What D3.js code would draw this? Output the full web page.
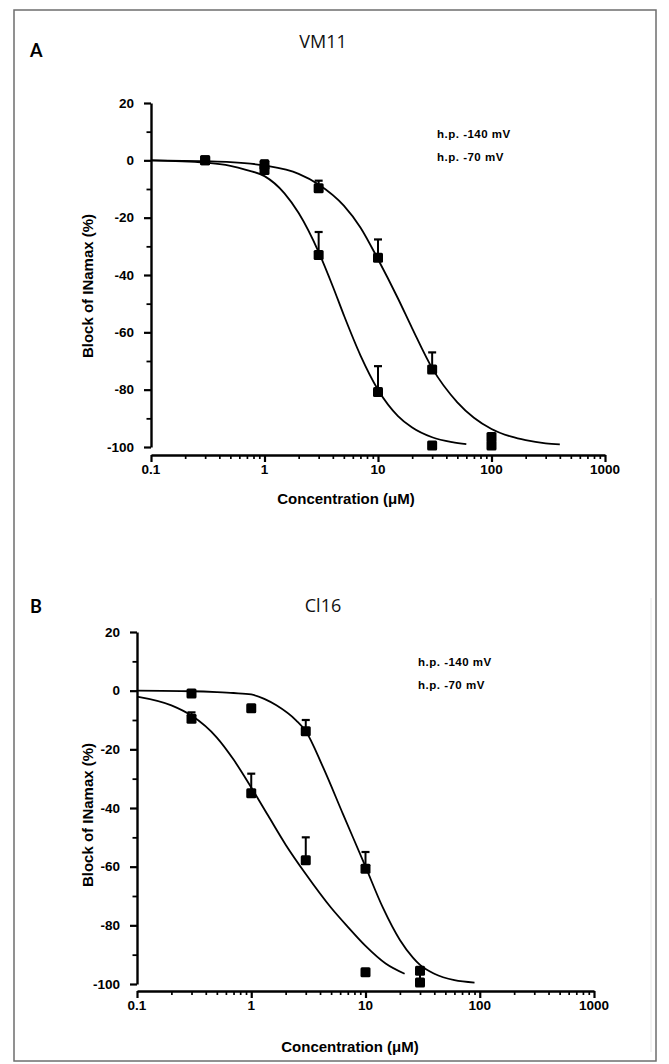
<!DOCTYPE html>
<html>
<head>
<meta charset="utf-8">
<script src="https://cdn.jsdelivr.net/npm/d3@7"></script>
<style>
  html, body { margin: 0; padding: 0; background: #fff; }
  svg { display: block; }
</style>
</head>
<body>
<script>
// ---------- DATA ----------
const xTicks = [0.1, 1, 10, 100, 1000];
const xTickLabels = ["0.1", "1", "10", "100", "1000"];
const xMinorTicks = [0.2,0.3,0.4,0.5,0.6,0.7,0.8,0.9,2,3,4,5,6,7,8,9,20,30,40,50,60,70,80,90,200,300,400,500,600,700,800,900];
const yTicks = [20, 0, -20, -40, -60, -80, -100];
const yMinorTicks = [10, -10, -30, -50, -70, -90];
const legendLabels = ["h.p. -140 mV", "h.p. -70 mV"];
const panelLetters = ["A", "B"];
const panelTitles = ["VM11", "Cl16"];
const yAxisTitle = "Block of INamax (%)";
const xAxisTitle = "Concentration (\u03bcM)";

// Panel A (VM11) measured points
const aConc140 = [0.3, 1, 3, 10, 30, 100];
const aBlock140 = [0, -1.5, -9.7, -34, -73, -96.5];
const aErr140 = [0, 1.5, 2.6, 6.4, 6, 0];
const aConc70 = [0.3, 1, 3, 10, 30, 100];
const aBlock70 = [0, -3.4, -33, -80.8, -99.5, -99.5];
const aErr70 = [0, 0, 8, 9, 0, 3];
// Panel A fitted curves
const aFitConc140 = [0.1, 0.3, 0.5, 1, 2, 3, 5, 7, 10, 15, 20, 30, 50, 70, 100, 150, 200, 300, 400];
const aFitBlock140 = [0, -0.3, -0.6, -1.8, -4.7, -8.4, -15.8, -23.4, -34.5, -48.2, -58.6, -72.5, -84.4, -89.8, -93.7, -96.4, -97.6, -98.7, -99.1];
const aFitConc70 = [0.1, 0.3, 0.5, 0.7, 1, 1.5, 2, 3, 4, 5, 7, 10, 15, 20, 30, 45, 60];
const aFitBlock70 = [0, -0.8, -1.9, -3.4, -5.5, -11.5, -18.4, -32, -44, -54, -68, -80, -89.2, -93.2, -96.6, -98.3, -99];

// Panel B (Cl16) measured points
const bConc140 = [0.3, 1, 3, 10, 30];
const bBlock140 = [-1, -6, -13.8, -60.7, -95.5];
const bErr140 = [0, 0, 3.8, 5.7, 0];
const bConc70 = [0.3, 1, 3, 10, 30];
const bBlock70 = [-9.6, -35, -57.8, -96, -99.5];
const bErr70 = [2.2, 6.7, 7.8, 0, 4];
// Panel B fitted curves
const bFitConc140 = [0.1, 0.3, 0.5, 0.7, 1, 1.3, 1.66, 2.48, 3, 4.24, 6.34, 10, 14.2, 20, 26, 30, 40, 60, 90];
const bFitBlock140 = [0, -0.2, -0.5, -0.8, -1.3, -2.8, -5, -10.2, -13.8, -26, -42, -60, -74, -85, -91, -93.5, -96.5, -98.7, -99.5];
const bFitConc70 = [0.1, 0.2, 0.3, 0.5, 0.7, 1, 1.4, 2, 3, 5, 7, 10, 15, 22];
const bFitBlock70 = [-2, -5, -8.5, -16, -23.5, -33, -42.5, -52.5, -62.5, -74, -80.5, -87, -93, -96.5];

// ---------- LAYOUT ----------
const W = 669, H = 1064;
const svg = d3.select("body").append("svg").attr("width", W).attr("height", H);

svg.append("rect").attr("x", 14).attr("y", 10).attr("width", 642).attr("height", 1051)
  .attr("fill", "none").attr("stroke", "#6e6e6e").attr("stroke-width", 1.5);
svg.append("line").attr("x1", 651).attr("x2", 651).attr("y1", 598).attr("y2", 1052)
  .attr("stroke", "#e6e6e6").attr("stroke-width", 1);

const panels = [
  { letter: panelLetters[0], title: panelTitles[0], letterY: 57, titleY: 48,
    axisX: 151, xr: [151, 605], yr: [447, 103], xAxisY: 455, tickLabY: 474, xTitleX: 346, xTitleY: 504,
    yTitleY: 286, legX: 437, legY: [138, 161],
    fits: [[aFitConc140, aFitBlock140], [aFitConc70, aFitBlock70]],
    pts: [[aConc140, aBlock140, aErr140], [aConc70, aBlock70, aErr70]] },
  { letter: panelLetters[1], title: panelTitles[1], letterY: 613, titleY: 612,
    axisX: 137, xr: [137, 594], yr: [984, 632], xAxisY: 991, tickLabY: 1010, xTitleX: 350, xTitleY: 1052,
    yTitleY: 815, legX: 418, legY: [666, 689],
    fits: [[bFitConc140, bFitBlock140], [bFitConc70, bFitBlock70]],
    pts: [[bConc140, bBlock140, bErr140], [bConc70, bBlock70, bErr70]] }
];

const fontBold = '"Liberation Sans", Arial, sans-serif';

panels.forEach(p => {
  const g = svg.append("g");
  const x = d3.scaleLog().domain([0.1, 1000]).range(p.xr);
  const y = d3.scaleLinear().domain([-100, 20]).range(p.yr);

  g.append("text").attr("x", 30).attr("y", p.letterY).text(p.letter)
    .attr("font-family", "Lato, 'Open Sans', sans-serif").attr("font-weight", "bold").attr("font-size", 18);
  g.append("text").attr("x", 323).attr("y", p.titleY).attr("text-anchor", "middle").text(p.title)
    .attr("font-family", "'Open Sans', Lato, sans-serif").attr("font-size", 18).attr("fill", "#111");

  // Y axis
  const yAx = g.append("g").attr("transform", `translate(${p.axisX},0)`)
    .call(d3.axisLeft(y).tickValues(yTicks).tickSize(7).tickSizeOuter(0).tickPadding(10).tickFormat(d => String(d)));
  yAx.selectAll("text").attr("font-size", 13.5).attr("font-family", fontBold).attr("font-weight", "bold").attr("fill", "#000");
  const yMin = g.append("g").attr("transform", `translate(${p.axisX},0)`)
    .call(d3.axisLeft(y).tickValues(yMinorTicks).tickSize(4.5).tickSizeOuter(0).tickFormat(""));
  yMin.select(".domain").remove();
  g.selectAll("path.domain, .tick line").attr("stroke", "#000");
  yAx.select(".domain").attr("stroke-width", 2.4);
  yAx.selectAll(".tick line").attr("stroke-width", 2.2);
  yMin.selectAll(".tick line").attr("stroke-width", 1.8);

  // X axis
  const xAx = g.append("g").attr("transform", `translate(0,${p.xAxisY})`)
    .call(d3.axisBottom(x).tickValues(xTicks).tickSize(7).tickSizeOuter(0).tickFormat(""));
  xAx.select(".domain").attr("stroke", "#000").attr("stroke-width", 2.4);
  xAx.selectAll(".tick line").attr("stroke", "#000").attr("stroke-width", 2.2);
  const xMin = g.append("g").attr("transform", `translate(0,${p.xAxisY})`)
    .call(d3.axisBottom(x).tickValues(xMinorTicks).tickSize(4).tickSizeOuter(0).tickFormat(""));
  xMin.select(".domain").remove();
  xMin.selectAll(".tick line").attr("stroke", "#000").attr("stroke-width", 1.7);
  g.selectAll(null).data(xTicks).enter().append("text")
    .attr("x", d => x(d)).attr("y", p.tickLabY).attr("text-anchor", "middle")
    .attr("font-family", fontBold).attr("font-weight", "bold").attr("font-size", 13.5)
    .text((d, i) => xTickLabels[i]);

  // Titles
  g.append("text").attr("x", p.xTitleX).attr("y", p.xTitleY).attr("text-anchor", "middle")
    .attr("font-family", fontBold).attr("font-weight", "bold").attr("font-size", 15).text(xAxisTitle);
  g.append("text").attr("transform", `translate(93,${p.yTitleY}) rotate(-90)`).attr("text-anchor", "middle")
    .attr("font-family", fontBold).attr("font-weight", "bold").attr("font-size", 15).text(yAxisTitle);

  // Legend
  legendLabels.forEach((t, i) => {
    g.append("text").attr("x", p.legX).attr("y", p.legY[i]).text(t)
      .attr("font-family", fontBold).attr("font-weight", "bold").attr("font-size", 11.5).attr("letter-spacing", 0.5);
  });

  // Curves
  const line = d3.line().x(d => x(d[0])).y(d => y(d[1])).curve(d3.curveMonotoneX);
  p.fits.forEach(([cs, bs]) => {
    g.append("path").datum(cs.map((c, i) => [c, bs[i]])).attr("d", line)
      .attr("fill", "none").attr("stroke", "#000").attr("stroke-width", 1.8);
  });

  // Points with error bars
  p.pts.forEach(([cs, bs, es]) => {
    const data = cs.map((c, i) => ({ c, b: bs[i], e: es[i] }));
    const eb = data.filter(d => d.e > 0);
    g.selectAll(null).data(eb).enter().append("line")
      .attr("x1", d => x(d.c)).attr("x2", d => x(d.c))
      .attr("y1", d => y(d.b)).attr("y2", d => y(d.b + d.e))
      .attr("stroke", "#000").attr("stroke-width", 2);
    g.selectAll(null).data(eb).enter().append("line")
      .attr("x1", d => x(d.c) - 4).attr("x2", d => x(d.c) + 4)
      .attr("y1", d => y(d.b + d.e)).attr("y2", d => y(d.b + d.e))
      .attr("stroke", "#000").attr("stroke-width", 2.2);
    g.selectAll(null).data(data).enter().append("rect")
      .attr("x", d => x(d.c) - 5).attr("y", d => y(d.b) - 5)
      .attr("width", 10).attr("height", 10).attr("rx", 1.5).attr("fill", "#000");
  });
});
</script>
</body>
</html>
